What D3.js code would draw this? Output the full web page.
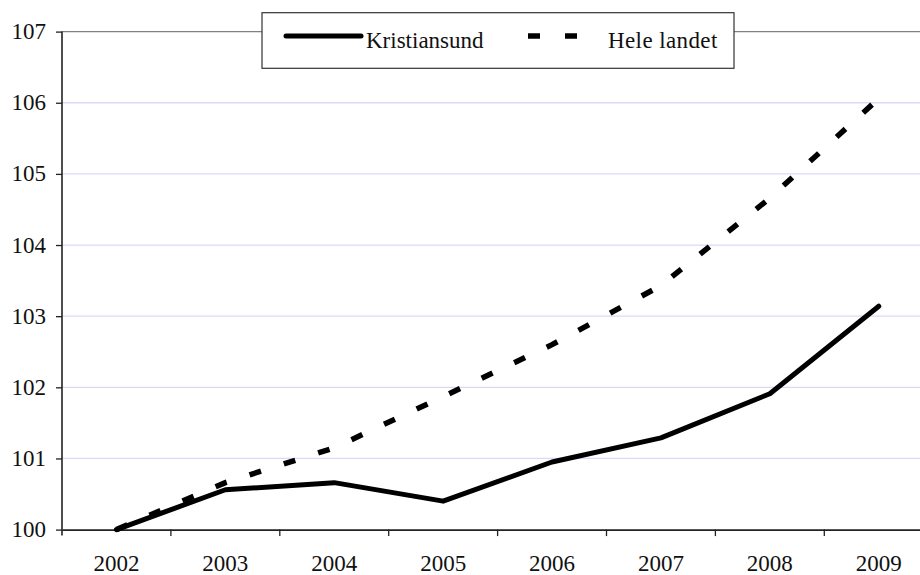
<!DOCTYPE html>
<html>
<head>
<meta charset="utf-8">
<script src="https://cdn.jsdelivr.net/npm/d3@7"></script>
</head>
<body style="margin:0">
<script>
// data (index, 2002 = 100)
const years = ["2002", "2003", "2004", "2005", "2006", "2007", "2008", "2009"];
const kristiansund = [100, 100.56, 100.66, 100.40, 100.95, 101.29, 101.91, 103.14];
const heleLandet = [100, 100.66, 101.15, 101.87, 102.60, 103.43, 104.66, 106.06];
const yTicks = [100, 101, 102, 103, 104, 105, 106, 107];

const W = 920, H = 575;
const margin = { top: 31.6, left: 62, bottom: 45 };
const bandW = 108.9;
const plotH = H - margin.top - margin.bottom;

const svg = d3.select("body")
  .append("svg")
  .attr("width", W)
  .attr("height", H)
  .style("display", "block")
  .style("font-family", '"Liberation Serif"');

const x = d3.scaleBand()
  .domain(years)
  .range([margin.left, margin.left + bandW * years.length]);

const y = d3.scaleLinear()
  .domain([100, 107])
  .range([margin.top + plotH - 0.4, margin.top]);

// gridlines
svg.append("g")
  .selectAll("line")
  .data(yTicks.slice(1, -1))
  .join("line")
  .attr("x1", margin.left)
  .attr("x2", W)
  .attr("y1", d => y(d))
  .attr("y2", d => y(d))
  .attr("stroke", "#d9d9f6")
  .attr("stroke-width", 1.3);

// top border of plot
svg.append("line")
  .attr("x1", margin.left).attr("x2", W)
  .attr("y1", y(107)).attr("y2", y(107))
  .attr("stroke", "#808080").attr("stroke-width", 1.3);

// y axis, no d3 text; labels drawn below
const yAxis = svg.append("g")
  .attr("transform", `translate(${margin.left},0)`)
  .call(d3.axisLeft(y).tickValues(yTicks).tickSize(6).tickFormat(""));
yAxis.select(".domain").attr("stroke", "#222").attr("stroke-width", 1.6)
  .attr("d", `M0,${y(107)}V${y(100) + 6}`);
yAxis.selectAll(".tick line").attr("stroke", "#222").attr("stroke-width", 1.3);

svg.selectAll(".ylab")
  .data(yTicks)
  .join("text")
  .attr("class", "ylab")
  .attr("x", margin.left - 16)
  .attr("y", d => y(d))
  .attr("dy", "0.33em")
  .attr("text-anchor", "end")
  .attr("fill", "#111")
  .style("font-family", '"Liberation Serif"')
  .style("font-size", "23px")
  .text(d => d);

// x axis: ticks at band edges, labels at category centres
const xAxis = svg.append("g")
  .attr("transform", `translate(0,${y(100)})`)
  .call(d3.axisBottom(x).tickSize(0).tickFormat(""));
xAxis.select(".domain").attr("stroke", "#222").attr("stroke-width", 1.6);
xAxis.selectAll(".edge")
  .data(years.slice(1))
  .join("line")
  .attr("class", "edge")
  .attr("x1", d => x(d)).attr("x2", d => x(d))
  .attr("y1", 0).attr("y2", 6.5)
  .attr("stroke", "#222").attr("stroke-width", 1.3);

svg.selectAll(".xlab")
  .data(years)
  .join("text")
  .attr("class", "xlab")
  .attr("x", d => x(d) + x.bandwidth() / 2)
  .attr("y", y(100) + 41)
  .attr("text-anchor", "middle")
  .attr("fill", "#111")
  .style("font-family", '"Liberation Serif"')
  .style("font-size", "23px")
  .text(d => d);

const line = d3.line()
  .x((d, i) => x(years[i]) + x.bandwidth() / 2)
  .y(d => y(d));

svg.append("path")
  .datum(heleLandet)
  .attr("d", line)
  .attr("fill", "none")
  .attr("stroke", "#000")
  .attr("stroke-width", 5.5)
  .attr("stroke-dasharray", "12,24");

svg.append("path")
  .datum(kristiansund)
  .attr("d", line)
  .attr("fill", "none")
  .attr("stroke", "#000")
  .attr("stroke-width", 5)
  .attr("stroke-linejoin", "round")
  .attr("stroke-linecap", "round");

// legend
const lg = svg.append("g");
lg.append("rect")
  .attr("x", 262).attr("y", 12.7)
  .attr("width", 472).attr("height", 55.6)
  .attr("fill", "#fff").attr("stroke", "#333").attr("stroke-width", 1.2);
lg.append("line")
  .attr("x1", 286).attr("x2", 361).attr("y1", 36).attr("y2", 36)
  .attr("stroke", "#000").attr("stroke-width", 5).attr("stroke-linecap", "round");
lg.append("text")
  .attr("x", 366).attr("y", 48)
  .attr("fill", "#111")
  .style("font-family", '"Liberation Serif"')
  .style("font-size", "23px")
  .text("Kristiansund");
lg.append("line")
  .attr("x1", 528).attr("x2", 602).attr("y1", 36).attr("y2", 36)
  .attr("stroke", "#000").attr("stroke-width", 5.5).attr("stroke-dasharray", "12,25");
lg.append("text")
  .attr("x", 608).attr("y", 48)
  .attr("fill", "#111")
  .style("font-family", '"Liberation Serif"')
  .style("font-size", "23px")
  .style("letter-spacing", "0.4px")
  .text("Hele landet");
</script>
</body>
</html>
